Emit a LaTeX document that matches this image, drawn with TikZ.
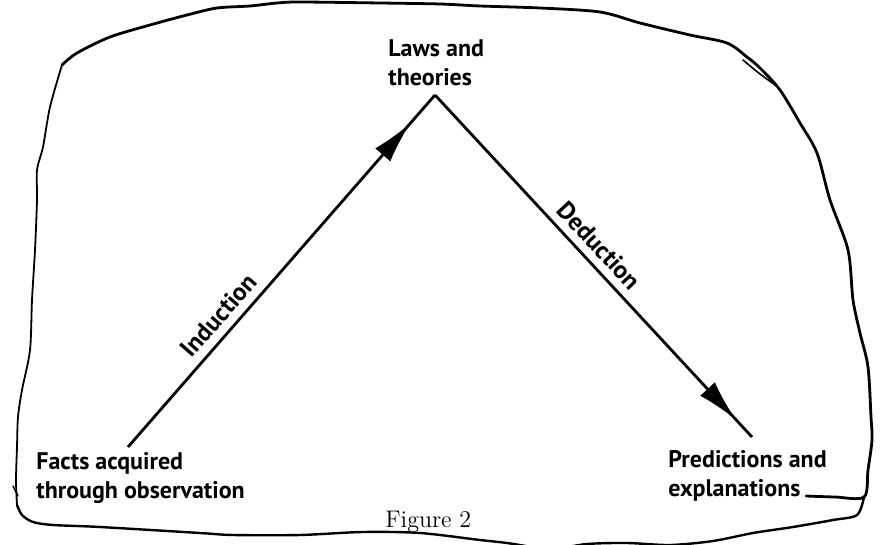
\documentclass[tikz,border=0pt]{standalone}
\usepackage{fontspec}
\newfontfamily\lblfont{PT Sans}
\usetikzlibrary{arrows.meta,decorations.markings}

\begin{document}
\begin{tikzpicture}[
    x=0.5pt,y=-0.5pt,
    lbl/.style={anchor=north west,inner sep=0pt,align=left,font=\lblfont\bfseries\fontsize{12}{14.5}\selectfont},
    edgelbl/.style={sloped,above,inner sep=4pt,font=\lblfont\bfseries\fontsize{12.5}{14}\selectfont},
    ray/.style={line width=1.4pt,postaction={decorate},decoration={markings,mark=at position #1 with {\arrow{Latex[length=21pt,width=10pt]}}}},
    rim/.style={line width=1.2pt,line join=round,line cap=round}
]
    \useasboundingbox (0,0) rectangle (884,545);

    \node[lbl] (laws) at (388,39) {Laws and\\theories};
    \node[lbl] (facts) at (36,452) {Facts acquired\\through observation};
    \node[lbl] (pred) at (668,450) {Predictions and\\explanations};
    \node[anchor=base west,inner sep=0pt,font=\fontsize{12}{14}\selectfont] (fig) at (385,527) {Figure 2};

    \coordinate (apex) at (435,95);
    \coordinate (factsend) at (128,447);
    \coordinate (predend) at (752,437);

    \draw[ray=0.92] (factsend) -- node[edgelbl,pos=0.34] (ind) {Induction} (apex);
    \draw[ray=0.95] (apex) -- node[edgelbl,pos=0.476] (ded) {Deduction} (predend);

    \draw[rim,line width=1.4pt] plot[smooth,tension=0.5] coordinates {
        (806,496) (835,497) (864,497) (868,470) (872,440) (871,417) (868,367)
        (860,333) (853,300) (848,250) (830,200) (817,153) (800,123) (780,90)
        (760,68) (747,57) (727,43) (690,35) (640,23) (600,12) (540,8) (480,6)
        (440,4) (380,3) (300,2) (277,3) (250,6) (217,8) (187,15) (150,25)
        (110,37) (77,53) (62,65)};
    \draw[rim,line width=0.9pt] plot[smooth,tension=0.5] coordinates {
        (62,65) (50,107) (43,147) (37,170) (37,200) (35,250) (32,300) (30,350)
        (22,390) (18,417) (17,447) (16,480) (17,505)};
    \draw[rim] plot[smooth,tension=0.5] coordinates {
        (17,505) (22,515) (33,522) (53,525) (100,527) (200,533) (233,535)
        (300,535) (363,532) (420,533) (480,540) (507,543) (550,549) (587,544)
        (627,543) (670,545) (713,541) (753,533) (793,527) (833,520) (857,515)
        (864,497)};
    \draw[rim,line width=0.8pt] plot[smooth,tension=0.5] coordinates {(743,60) (760,74) (778,87)};
    \draw[rim,line width=0.7pt] (13,486) -- (18,496);
\end{tikzpicture}
\end{document}
